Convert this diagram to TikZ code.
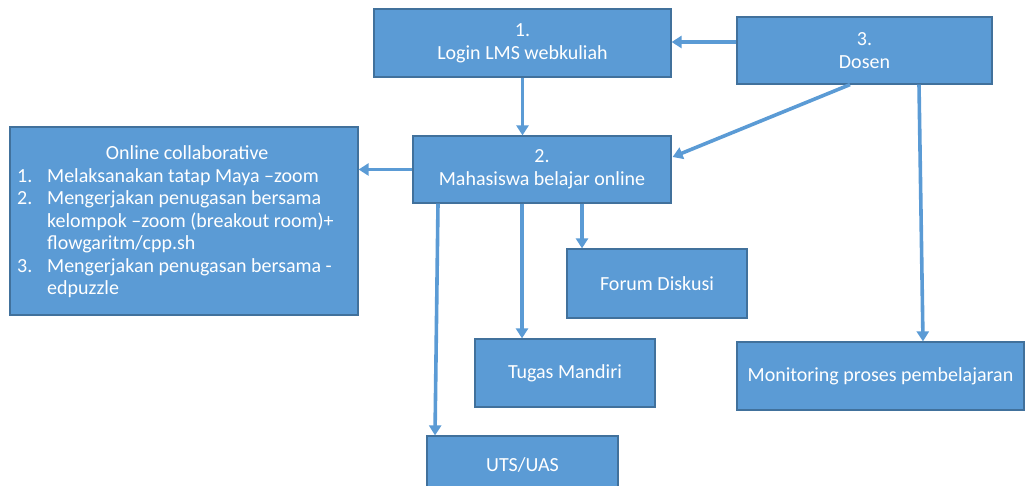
\documentclass[tikz,border=0pt]{standalone}
\usepackage{fontspec}
\setmainfont{Carlito}
\usepackage{array}
\usetikzlibrary{arrows.meta}
\definecolor{boxfill}{HTML}{5B9BD5}
\definecolor{boxline}{HTML}{41719C}
\definecolor{arrowc}{HTML}{5B9BD5}
\tikzset{
  blockbox/.style={draw=boxline, line width=1.2pt, fill=boxfill, text=white,
    font=\fontsize{20}{23}\selectfont, align=center, inner sep=0pt},
  conn/.style={draw=arrowc, line width=3.6pt, -{Triangle[width=12pt,length=10pt]}, shorten >=0pt}
}
\begin{document}
\begin{tikzpicture}[x=1pt,y=-1pt]
\useasboundingbox (0,0) rectangle (1026,486);
\node[blockbox, minimum width=297pt, minimum height=68pt] (login) at (522.5,43) {1.\\Login LMS webkuliah};
\node[blockbox, minimum width=255pt, minimum height=67pt] (dosen) at (864.5,50.5) {3.\\Dosen};
\node[blockbox, minimum width=258pt, minimum height=67pt] (maha) at (542,169.5) {2.\\Mahasiswa belajar online};
\node[blockbox, minimum width=348pt, minimum height=188pt] (online) at (184,221) {};
\node[text=white, anchor=base west, inner sep=0pt, font=\fontsize{20}{22.5}\selectfont] (onlinetxt) at (17,160)
  {\begin{tabular}[t]{@{}p{30pt}@{}p{310pt}@{}}
   \multicolumn{2}{@{}c@{}}{Online collaborative}\\
   1. & Melaksanakan tatap Maya –zoom\\
   2. & Mengerjakan penugasan bersama\\
      & kelompok –zoom (breakout room)+\\
      & flowgaritm/cpp.sh\\
   3. & Mengerjakan penugasan bersama -\\
      & edpuzzle
   \end{tabular}};
\node[blockbox, minimum width=180pt, minimum height=69pt] (forum) at (657,283.5) {Forum Diskusi};
\node[blockbox, minimum width=180pt, minimum height=68pt] (tugas) at (565,373) {Tugas Mandiri};
\node[blockbox, minimum width=287pt, minimum height=68pt] (monit) at (880.5,376) {Monitoring proses pembelajaran};
\node[blockbox, minimum width=191pt, minimum height=70pt] (uts) at (522.5,471) {};
\node[text=white, font=\fontsize{20}{23}\selectfont, inner sep=0pt] (utstxt) at (522.5,465) {UTS/UAS};
% connectors
\draw[conn] (login.south) -- (login.south |- maha.north);
\draw[conn] ([yshift=8.5pt]dosen.west) -- ([yshift=1pt]login.east);
\draw[conn] ([xshift=-14.5pt]dosen.south) -- ([yshift=12.5pt,xshift=1pt]maha.east);
\draw[conn] ([xshift=54.5pt]dosen.south) -- ([xshift=42.5pt]monit.north);
\draw[conn] (maha.west) -- (online.east |- maha.west);
\draw[conn] ([xshift=-104pt]maha.south) -- ([xshift=-87.5pt]uts.north);
\draw[conn] ([xshift=-20pt]maha.south) -- ([xshift=-43pt]tugas.north);
\draw[conn] ([xshift=40pt]maha.south) -- ([xshift=-75pt]forum.north);
\end{tikzpicture}
\end{document}
